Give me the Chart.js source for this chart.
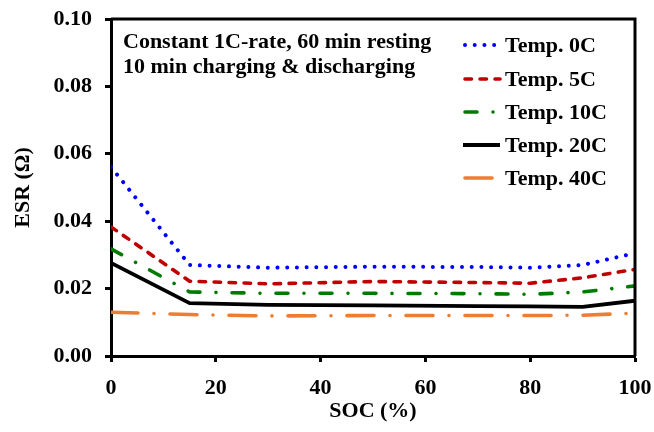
<!DOCTYPE html>
<html>
<head>
<meta charset="utf-8">
<script src="https://cdn.jsdelivr.net/npm/chart.js@4.4.0/dist/chart.umd.min.js"></script>
<style>
  html, body { margin: 0; padding: 0; background: #fff; }
  #wrap { width: 654px; height: 432px; position: relative; }
</style>
</head>
<body>
<div id="wrap"><canvas id="c" width="654" height="432"></canvas></div>
<script>
// ---- data ----
const soc = [0, 15, 30, 50, 70, 80, 90, 100];
const esr0C  = [0.0561, 0.0270, 0.0262, 0.0265, 0.0264, 0.0262, 0.0270, 0.0305];
const esr5C  = [0.0383, 0.0222, 0.0214, 0.0221, 0.0218, 0.0216, 0.0232, 0.0257];
const esr10C = [0.0318, 0.0190, 0.0186, 0.0186, 0.0185, 0.0183, 0.0190, 0.0208];
const esr20C = [0.0276, 0.0157, 0.0152, 0.0150, 0.0148, 0.0147, 0.0146, 0.0164];
const esr40C = [0.0130, 0.0123, 0.0119, 0.0120, 0.0120, 0.0120, 0.0121, 0.0127];
const seriesLabels = ['Temp. 0C', 'Temp. 5C', 'Temp. 10C', 'Temp. 20C', 'Temp. 40C'];
const xTicks = [0, 20, 40, 60, 80, 100];
const yTicks = [0.00, 0.02, 0.04, 0.06, 0.08, 0.10];
const noteLines = ['Constant 1C-rate, 60 min resting', '10 min charging & discharging'];
const xTitle = 'SOC (%)';
const yTitle = 'ESR (Ω)';

const FONT = '"Liberation Serif", "Times New Roman", serif';
const FS = 22;

function pts(ys) { return soc.map((x, i) => ({ x: x, y: ys[i] })); }

const styles = [
  { color: '#0000FF', width: 4,   dash: [0.01, 9.7],            cap: 'round' },
  { color: '#C00000', width: 3.6, dash: [6.5, 8.5],             cap: 'round' },
  { color: '#007A00', width: 3.6, dash: [12, 16, 0.01, 16],     cap: 'round' },
  { color: '#000000', width: 3.8, dash: [],                      cap: 'butt'  },
  { color: '#ED7D31', width: 3.6, dash: [27, 16, 0.01, 16],     cap: 'round' }
];
const allSeries = [esr0C, esr5C, esr10C, esr20C, esr40C];

const datasets = allSeries.map((s, i) => ({
  label: seriesLabels[i],
  data: pts(s),
  borderColor: styles[i].color,
  borderWidth: styles[i].width,
  borderDash: styles[i].dash,
  borderCapStyle: styles[i].cap,
  borderJoinStyle: 'round',
  pointRadius: 0,
  tension: 0,
  fill: false
}));

const boxPlugin = {
  id: 'boxPlugin',
  afterDraw(chart) {
    const { ctx, chartArea: a } = chart;
    ctx.save();
    ctx.strokeStyle = '#000';
    ctx.lineWidth = 3;
    ctx.beginPath();
    ctx.moveTo(a.left, a.top);
    ctx.lineTo(a.right, a.top);
    ctx.lineTo(a.right, a.bottom);
    ctx.stroke();

    // annotation
    ctx.fillStyle = '#000';
    ctx.font = 'bold ' + FS + 'px ' + FONT;
    ctx.textAlign = 'left';
    ctx.textBaseline = 'alphabetic';
    ctx.fillText(noteLines[0], 123, 48);
    ctx.fillText(noteLines[1], 123, 73);

    // legend
    const lx0 = 463, lx1 = 500, tx = 505;
    const ys = [45, 79, 112, 145, 178];
    chart.data.datasets.forEach((ds, i) => {
      const y = ys[i];
      ctx.save();
      ctx.strokeStyle = ds.borderColor;
      ctx.lineWidth = ds.borderWidth;
      ctx.setLineDash(ds.borderDash);
      ctx.lineCap = ds.borderCapStyle;
      ctx.beginPath();
      ctx.moveTo(lx0 + (ds.borderCapStyle === 'round' ? 2 : 0), y);
      ctx.lineTo(lx1, y);
      ctx.stroke();
      ctx.restore();
      ctx.fillStyle = '#000';
      ctx.font = 'bold ' + FS + 'px ' + FONT;
      ctx.textBaseline = 'middle';
      ctx.fillText(ds.label, tx, y + 1);
    });
    ctx.restore();
  }
};

new Chart(document.getElementById('c'), {
  type: 'line',
  data: { datasets },
  options: {
    responsive: false,
    animation: false,
    devicePixelRatio: 1,
    layout: { padding: { top: 19, right: 19, left: 0, bottom: 0 } },
    plugins: { legend: { display: false }, tooltip: { enabled: false } },
    scales: {
      x: {
        type: 'linear',
        min: 0, max: 100,
        afterFit: s => { s.height = 76; s.paddingRight = 0; s.paddingLeft = 0; },
        afterBuildTicks: s => { s.ticks = xTicks.map(v => ({ value: v })); },
        ticks: { color: '#000', font: { family: FONT, size: FS, weight: 'bold' }, padding: 13, maxRotation: 0 },
        grid: { display: true, drawOnChartArea: false, drawTicks: true, tickLength: 6, tickWidth: 3, tickColor: '#000' },
        border: { display: true, color: '#000', width: 3 },
        title: { display: true, text: xTitle, color: '#000', font: { family: FONT, size: FS, weight: 'bold' }, padding: { top: 0, bottom: 7 } }
      },
      y: {
        type: 'linear',
        min: 0, max: 0.1,
        afterFit: s => { s.width = 111; s.paddingTop = 0; s.paddingBottom = 0; },
        afterBuildTicks: s => { s.ticks = yTicks.map(v => ({ value: v })); },
        ticks: { color: '#000', font: { family: FONT, size: FS, weight: 'bold' }, padding: 13, callback: v => Number(v).toFixed(2) },
        grid: { display: true, drawOnChartArea: false, drawTicks: true, tickLength: 6, tickWidth: 3, tickColor: '#000' },
        border: { display: true, color: '#000', width: 3 },
        title: { display: true, text: yTitle, color: '#000', font: { family: FONT, size: FS, weight: 'bold' }, padding: { top: 10, bottom: 0 } }
      }
    }
  },
  plugins: [boxPlugin]
});
</script>
</body>
</html>
